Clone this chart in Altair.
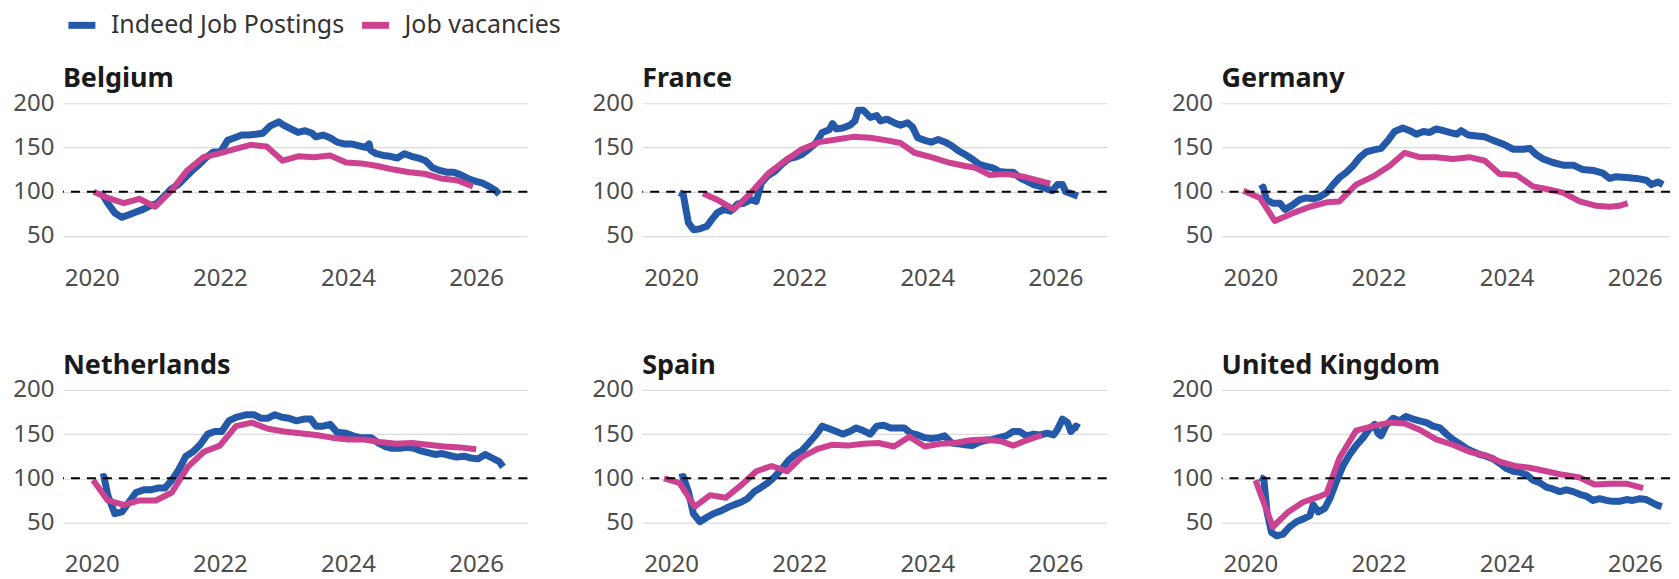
import altair as alt
import pandas as pd

FONT = "Noto Sans"
BLUE = "#2458A8"
PINK = "#CC4190"
SERIES = ["Indeed Job Postings", "Job vacancies"]
COUNTRIES = ["Belgium", "France", "Germany", "Netherlands", "Spain", "United Kingdom"]
X_TICKS = [2020, 2022, 2024, 2026]
Y_TICKS = [50, 100, 150, 200]
REF_LEVEL = [100]

# ---------------- Belgium ----------------
BE_POST_X = [2020.14, 2020.25, 2020.36, 2020.47, 2020.58, 2020.69, 2020.80, 2020.91, 2021.02, 2021.13,
             2021.24, 2021.35, 2021.46, 2021.57, 2021.68, 2021.79, 2021.90, 2022.01, 2022.12, 2022.23,
             2022.34, 2022.45, 2022.56, 2022.67, 2022.78, 2022.92, 2023.00, 2023.11, 2023.22, 2023.33,
             2023.44, 2023.50, 2023.61, 2023.72, 2023.83, 2023.94, 2024.05, 2024.16, 2024.27, 2024.33,
             2024.35, 2024.44, 2024.55, 2024.66, 2024.77, 2024.88, 2024.99, 2025.10, 2025.21, 2025.32,
             2025.43, 2025.54, 2025.65, 2025.76, 2025.87, 2025.98, 2026.09, 2026.20, 2026.31, 2026.36]
BE_POST_Y = [100, 87, 76, 71, 74, 77, 80, 84, 87, 95,
             103, 108, 116, 124, 131, 139, 145, 145, 158, 161,
             164, 164, 165, 166, 174, 179, 175, 171, 167, 169,
             166, 162, 164, 161, 156, 154, 154, 152, 150, 154,
             147, 143, 141, 140, 138, 143, 140, 138, 135, 127,
             124, 122, 122, 119, 115, 112, 110, 106, 101, 97]
BE_VAC_X = [2020.03, 2020.25, 2020.50, 2020.74, 2020.99, 2021.24, 2021.49, 2021.74, 2021.98, 2022.23,
            2022.48, 2022.73, 2022.98, 2023.22, 2023.47, 2023.72, 2023.97, 2024.21, 2024.46, 2024.71,
            2024.96, 2025.21, 2025.45, 2025.70, 2025.95]
BE_VAC_Y = [100, 93, 87, 92, 83, 101, 124, 139, 143, 148,
            153, 151, 135, 140, 139, 141, 133, 132, 129, 125,
            122, 120, 115, 113, 106]

# ---------------- France ----------------
FR_POST_X = [2020.13, 2020.19, 2020.27, 2020.35, 2020.45, 2020.56, 2020.64, 2020.72, 2020.82, 2020.93,
             2021.04, 2021.14, 2021.25, 2021.33, 2021.41, 2021.51, 2021.62, 2021.73, 2021.83, 2021.94,
             2022.04, 2022.15, 2022.26, 2022.36, 2022.47, 2022.52, 2022.58, 2022.68, 2022.79, 2022.87,
             2022.92, 2023.00, 2023.11, 2023.21, 2023.27, 2023.37, 2023.48, 2023.58, 2023.69, 2023.77,
             2023.85, 2023.96, 2024.06, 2024.17, 2024.28, 2024.38, 2024.49, 2024.59, 2024.70, 2024.81,
             2024.91, 2025.02, 2025.12, 2025.23, 2025.34, 2025.44, 2025.55, 2025.66, 2025.76, 2025.87,
             2025.95, 2026.03, 2026.11, 2026.16, 2026.24, 2026.35]
FR_POST_Y = [99, 97, 65, 57, 58, 61, 69, 76, 80, 78,
             86, 87, 91, 89, 110, 118, 123, 131, 137, 139,
             142, 148, 155, 167, 170, 177, 171, 172, 175, 180,
             192, 192, 184, 186, 180, 182, 178, 175, 178, 173,
             161, 158, 156, 159, 156, 152, 146, 142, 137, 131,
             129, 127, 123, 122, 122, 116, 112, 108, 106, 103,
             101, 108, 108, 100, 98, 95]
FR_VAC_X = [2020.50, 2020.72, 2020.98, 2021.25, 2021.51, 2021.78, 2022.04, 2022.31, 2022.58, 2022.84,
            2023.11, 2023.37, 2023.58, 2023.80, 2024.06, 2024.33, 2024.59, 2024.75, 2024.97, 2025.23,
            2025.50, 2025.71, 2025.92]
FR_VAC_Y = [98, 91, 80, 99, 120, 135, 148, 156, 159, 162,
            161, 158, 155, 144, 139, 133, 129, 127, 119, 120,
            117, 113, 109]

# ---------------- Germany ----------------
DE_POST_X = [2020.15, 2020.20, 2020.25, 2020.35, 2020.46, 2020.54, 2020.64, 2020.77, 2020.87, 2020.98,
             2021.08, 2021.19, 2021.29, 2021.39, 2021.50, 2021.60, 2021.71, 2021.81, 2021.91, 2022.04,
             2022.15, 2022.25, 2022.38, 2022.49, 2022.59, 2022.70, 2022.80, 2022.90, 2023.01, 2023.11,
             2023.22, 2023.29, 2023.40, 2023.53, 2023.66, 2023.79, 2023.94, 2024.10, 2024.26, 2024.36,
             2024.46, 2024.57, 2024.72, 2024.88, 2025.04, 2025.19, 2025.35, 2025.50, 2025.61, 2025.71,
             2025.87, 2026.03, 2026.18, 2026.26, 2026.36, 2026.44]
DE_POST_Y = [103, 105, 91, 87, 87, 80, 84, 91, 93, 92,
             94, 99, 108, 116, 122, 129, 139, 145, 147, 149,
             158, 168, 172, 169, 165, 168, 167, 171, 169, 167,
             165, 169, 164, 163, 162, 158, 154, 148, 148, 149,
             142, 137, 133, 130, 130, 125, 124, 121, 115, 117,
             116, 115, 113, 108, 111, 108]
DE_VAC_X = [2019.89, 2020.15, 2020.38, 2020.67, 2020.93, 2021.19, 2021.39, 2021.65, 2021.91, 2022.17,
            2022.41, 2022.64, 2022.90, 2023.16, 2023.42, 2023.66, 2023.89, 2024.15, 2024.41, 2024.62,
            2024.88, 2025.14, 2025.40, 2025.61, 2025.76, 2025.89]
DE_VAC_Y = [101, 93, 67, 76, 83, 88, 89, 108, 117, 129,
            144, 139, 139, 137, 139, 135, 120, 119, 106, 103,
            99, 89, 84, 83, 84, 87]

# ---------------- Netherlands ----------------
NL_POST_X = [2020.14, 2020.19, 2020.25, 2020.36, 2020.47, 2020.58, 2020.69, 2020.81, 2020.92, 2021.03,
             2021.14, 2021.25, 2021.36, 2021.47, 2021.58, 2021.69, 2021.81, 2021.92, 2022.03, 2022.14,
             2022.25, 2022.42, 2022.53, 2022.64, 2022.75, 2022.86, 2022.97, 2023.08, 2023.19, 2023.31,
             2023.42, 2023.50, 2023.61, 2023.72, 2023.83, 2023.97, 2024.08, 2024.19, 2024.36, 2024.47,
             2024.58, 2024.69, 2024.81, 2024.92, 2025.03, 2025.14, 2025.25, 2025.36, 2025.47, 2025.58,
             2025.69, 2025.81, 2025.92, 2026.03, 2026.14, 2026.25, 2026.36, 2026.42]
NL_POST_Y = [101, 102, 81, 60, 62, 73, 84, 87, 87, 89,
             89, 98, 110, 125, 130, 138, 150, 153, 153, 165,
             169, 172, 172, 168, 168, 172, 169, 168, 165, 167,
             167, 159, 159, 161, 152, 151, 148, 146, 146, 140,
             136, 134, 134, 135, 134, 131, 129, 127, 128, 126,
             124, 125, 123, 122, 127, 123, 119, 113]
NL_VAC_X = [2020.02, 2020.25, 2020.50, 2020.75, 2021.00, 2021.25, 2021.50, 2021.75, 2022.00, 2022.25,
            2022.50, 2022.75, 2023.00, 2023.25, 2023.50, 2023.75, 2024.00, 2024.25, 2024.50, 2024.75,
            2025.00, 2025.25, 2025.50, 2025.75, 2026.00]
NL_VAC_Y = [98, 75, 70, 75, 75, 84, 113, 130, 137, 159,
            163, 156, 153, 151, 149, 146, 144, 144, 141, 139,
            140, 138, 136, 135, 133]

# ---------------- Spain ----------------
ES_POST_X = [2020.13, 2020.19, 2020.27, 2020.35, 2020.45, 2020.56, 2020.66, 2020.77, 2020.88, 2020.98,
             2021.09, 2021.19, 2021.30, 2021.41, 2021.51, 2021.62, 2021.73, 2021.83, 2021.94, 2022.04,
             2022.15, 2022.26, 2022.36, 2022.47, 2022.58, 2022.68, 2022.79, 2022.89, 2023.00, 2023.11,
             2023.21, 2023.32, 2023.43, 2023.53, 2023.64, 2023.74, 2023.85, 2023.96, 2024.06, 2024.17,
             2024.27, 2024.38, 2024.49, 2024.59, 2024.70, 2024.81, 2024.91, 2025.02, 2025.12, 2025.23,
             2025.34, 2025.44, 2025.55, 2025.66, 2025.76, 2025.87, 2025.97, 2026.03, 2026.11, 2026.19,
             2026.24, 2026.32, 2026.37]
ES_POST_Y = [101, 102, 85, 60, 51, 56, 60, 63, 67, 70,
             73, 77, 85, 90, 95, 102, 111, 120, 127, 131,
             140, 149, 159, 156, 153, 150, 153, 157, 154, 150,
             159, 160, 157, 157, 157, 151, 149, 146, 145, 146,
             148, 140, 139, 138, 137, 141, 143, 144, 146, 148,
             153, 153, 148, 150, 149, 151, 149, 155, 167, 163,
             153, 159, 157]
ES_VAC_X = [2019.89, 2020.13, 2020.37, 2020.61, 2020.85, 2021.09, 2021.33, 2021.57, 2021.81, 2022.04,
            2022.28, 2022.52, 2022.76, 2023.00, 2023.24, 2023.48, 2023.72, 2023.96, 2024.20, 2024.43,
            2024.67, 2024.91, 2025.15, 2025.34, 2025.55, 2025.79]
ES_VAC_Y = [100, 95, 68, 81, 78, 92, 108, 114, 108, 124,
            133, 138, 137, 139, 140, 136, 147, 136, 139, 140,
            143, 144, 142, 137, 143, 149]

# ---------------- United Kingdom ----------------
UK_POST_X = [2020.15, 2020.21, 2020.26, 2020.33, 2020.41, 2020.51, 2020.61, 2020.72, 2020.82, 2020.93,
             2020.98, 2021.06, 2021.16, 2021.24, 2021.34, 2021.45, 2021.55, 2021.65, 2021.76, 2021.86,
             2021.94, 2021.99, 2022.04, 2022.12, 2022.23, 2022.33, 2022.43, 2022.54, 2022.64, 2022.75,
             2022.85, 2022.96, 2023.06, 2023.16, 2023.27, 2023.37, 2023.48, 2023.58, 2023.68, 2023.79,
             2023.89, 2024.00, 2024.10, 2024.20, 2024.31, 2024.41, 2024.52, 2024.62, 2024.72, 2024.83,
             2024.93, 2025.04, 2025.14, 2025.24, 2025.35, 2025.45, 2025.56, 2025.66, 2025.76, 2025.87,
             2025.97, 2026.08, 2026.18, 2026.26, 2026.34, 2026.42]
UK_POST_Y = [101, 99, 62, 39, 35, 37, 45, 51, 54, 58,
             70, 62, 66, 77, 96, 115, 127, 137, 146, 156,
             161, 151, 148, 160, 168, 165, 170, 167, 165, 163,
             159, 157, 150, 144, 139, 134, 130, 127, 125, 122,
             117, 111, 108, 107, 104, 98, 95, 90, 88, 85,
             87, 85, 82, 80, 75, 77, 75, 74, 74, 76,
             75, 77, 76, 73, 70, 68]
UK_VAC_X = [2020.08, 2020.35, 2020.59, 2020.82, 2021.06, 2021.19, 2021.39, 2021.65, 2021.91, 2022.17,
            2022.41, 2022.64, 2022.90, 2023.16, 2023.42, 2023.66, 2023.89, 2024.13, 2024.36, 2024.62,
            2024.88, 2025.14, 2025.37, 2025.61, 2025.87, 2026.13]
UK_VAC_Y = [98, 45, 62, 73, 79, 83, 123, 154, 159, 163,
            162, 155, 144, 138, 130, 126, 119, 114, 112, 108,
            104, 101, 93, 94, 94, 89]

PANELS = {
    "Belgium": (BE_POST_X, BE_POST_Y, BE_VAC_X, BE_VAC_Y),
    "France": (FR_POST_X, FR_POST_Y, FR_VAC_X, FR_VAC_Y),
    "Germany": (DE_POST_X, DE_POST_Y, DE_VAC_X, DE_VAC_Y),
    "Netherlands": (NL_POST_X, NL_POST_Y, NL_VAC_X, NL_VAC_Y),
    "Spain": (ES_POST_X, ES_POST_Y, ES_VAC_X, ES_VAC_Y),
    "United Kingdom": (UK_POST_X, UK_POST_Y, UK_VAC_X, UK_VAC_Y),
}

# last column is cut at the window's edge, so it shows a shorter stretch of the same time axis
COL_WIDTHS = [465, 465, 449]
X_DOMAINS = [[2019.55, 2026.80], [2019.55, 2026.80], [2019.55, 2026.55]]
AXIS_EXTENT = 55
PANEL_HEIGHT = 155
Y_DOMAIN = [25, 200]


def panel(country, col):
    px, py, vx, vy = PANELS[country]
    post = pd.DataFrame({"year": px, "value": py, "series": SERIES[0]})
    vac = pd.DataFrame({"year": vx, "value": vy, "series": SERIES[1]})
    ref = pd.DataFrame({"value": REF_LEVEL})

    x_enc = alt.X(
        "year:Q",
        scale=alt.Scale(domain=X_DOMAINS[col], nice=False, zero=False),
        axis=alt.Axis(values=X_TICKS, format="d", title=None, grid=False, domain=False,
                      ticks=False, labelFontSize=24, labelPadding=8, labelColor="#4d4d4d",
                      labelFont=FONT, labelFlush=False),
    )
    y_enc = alt.Y(
        "value:Q",
        scale=alt.Scale(domain=Y_DOMAIN, nice=False, zero=False),
        axis=alt.Axis(values=Y_TICKS, title=None, domain=False, ticks=False, grid=True,
                      gridColor="#dcdcdc", gridWidth=1.2, labelFontSize=24, labelPadding=9,
                      labelColor="#4d4d4d", labelFont=FONT,
                      minExtent=AXIS_EXTENT, maxExtent=AXIS_EXTENT),
    )
    color_enc = alt.Color("series:N", scale=alt.Scale(domain=SERIES, range=[BLUE, PINK]), title=None)

    blue = alt.Chart(post).mark_line(strokeWidth=7, strokeJoin="round").encode(
        x=x_enc, y=y_enc, color=color_enc)
    pink = alt.Chart(vac).mark_line(strokeWidth=6, strokeJoin="round").encode(
        x=x_enc, y=y_enc, color=color_enc)
    rule = alt.Chart(ref).mark_rule(color="black", strokeDash=[9, 7], strokeWidth=2).encode(y=y_enc)

    return alt.layer(blue, pink, rule).properties(
        width=COL_WIDTHS[col],
        height=PANEL_HEIGHT,
        title=alt.TitleParams(text=country, anchor="start", frame="group", fontSize=27,
                              fontWeight="bold", font=FONT, color="#1a1a1a", offset=-2),
    )


row1 = alt.hconcat(*[panel(c, i) for i, c in enumerate(COUNTRIES[:3])], spacing=59)
row2 = alt.hconcat(*[panel(c, i) for i, c in enumerate(COUNTRIES[3:])], spacing=59)

chart = alt.vconcat(row1, row2, spacing=62).properties(padding=0).configure(
    font=FONT
).configure_view(stroke=None).configure_legend(
    orient="none", legendX=2, legendY=-95, direction="horizontal",
    labelFontSize=25, labelFont=FONT, labelColor="#333333", labelLimit=0,
    symbolType="stroke", symbolStrokeWidth=7, symbolSize=729,
    labelOffset=12, columnPadding=3,
)

chart.save("out.html", embed_options={"renderer": "svg", "actions": False})
